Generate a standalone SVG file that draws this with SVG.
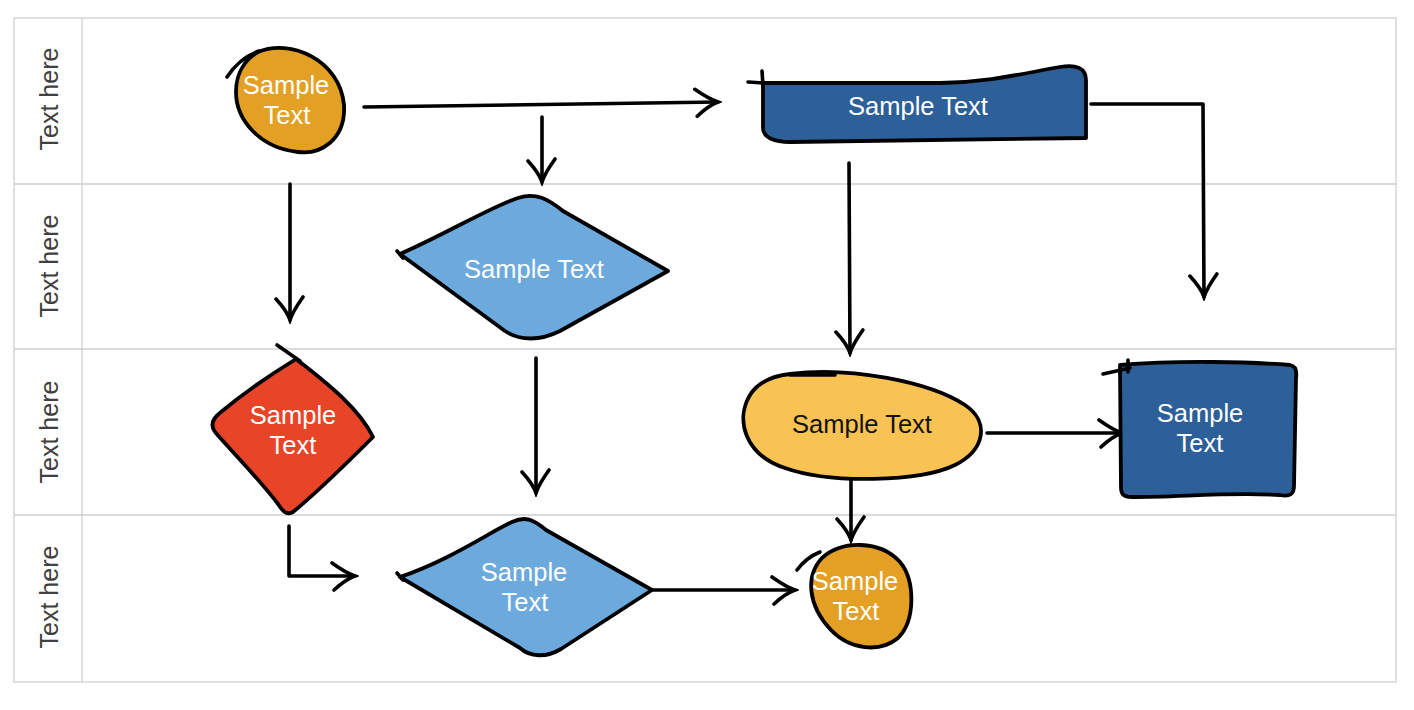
<svg xmlns="http://www.w3.org/2000/svg" width="1414" height="710" viewBox="0 0 1414 710">
<style>
.grid{fill:none;stroke:#cfcfcf;stroke-width:1.3}
.lbl{font-family:"Liberation Sans",Arial,sans-serif;font-size:25px;fill:#404040;text-anchor:middle}
.t{font-family:"Liberation Sans",Arial,sans-serif;font-size:25.5px;fill:#ffffff;text-anchor:middle}
.sh{stroke:#000;stroke-width:3.8;stroke-linejoin:round;stroke-linecap:round}
.ln{fill:none;stroke:#000;stroke-width:3.6;stroke-linecap:round;stroke-linejoin:round}
</style>
<defs>
<marker id="arr" viewBox="-28 -17 32 34" refX="0" refY="0" markerWidth="32" markerHeight="34" orient="auto" markerUnits="userSpaceOnUse">
<path d="M-23,-13 Q-9,-3 0,0 Q-9,3 -21,14" fill="none" stroke="#000" stroke-width="3.6" stroke-linecap="round"/>
</marker>
</defs>
<rect width="1414" height="710" fill="#fff"/>
<g id="table">
<rect class="grid" x="14" y="18" width="1382" height="664"/>
<line class="grid" x1="82" y1="18" x2="82" y2="682"/>
<line class="grid" x1="14" y1="184" x2="1396" y2="184"/>
<line class="grid" x1="14" y1="349" x2="1396" y2="349"/>
<line class="grid" x1="14" y1="515" x2="1396" y2="515"/>
<text class="lbl" transform="translate(58,99) rotate(-90)">Text here</text>
<text class="lbl" transform="translate(58,266) rotate(-90)">Text here</text>
<text class="lbl" transform="translate(58,432) rotate(-90)">Text here</text>
<text class="lbl" transform="translate(58,597) rotate(-90)">Text here</text>
</g>
<g id="connectors">
<path class="ln" d="M364,107 L718,102" marker-end="url(#arr)"/>
<path class="ln" d="M542,117 L542,182" marker-end="url(#arr)"/>
<path class="ln" d="M290,184 L290,320" marker-end="url(#arr)"/>
<path class="ln" d="M849,163 L850,353" marker-end="url(#arr)"/>
<path class="ln" d="M1091,104 L1203,104 L1204,297" marker-end="url(#arr)"/>
<path class="ln" d="M536,358 L536,493" marker-end="url(#arr)"/>
<path class="ln" d="M987,433 L1122,433" marker-end="url(#arr)"/>
<path class="ln" d="M851,479 L851,540" marker-end="url(#arr)"/>
<path class="ln" d="M289,526 L289,576 L355,576" marker-end="url(#arr)"/>
<path class="ln" d="M653,590 L795,590" marker-end="url(#arr)"/>
</g>
<g id="n1">
<path class="sh" fill="#E4A024" d="M258,52 C290,38 340,60 344,105 C346,140 320,155 298,152 C260,148 236,120 236,92 C236,72 246,59 258,52 Z"/>
<path class="ln" d="M227,77 C235,65 245,56 259,51"/>
<text class="t" x="286" y="94">Sample</text>
<text class="t" x="287" y="124">Text</text>
</g>
<g id="n2">
<path class="sh" fill="#2D5F98" d="M763,83 L940,83 C990,82 1020,74 1060,67 C1076,64 1086,68 1086,80 L1086,138 L790,142 C775,142 763,138 763,128 Z"/>
<path class="ln" d="M748,82 L764,83 M762,71 L763,86"/>
<text class="t" x="918" y="115">Sample Text</text>
</g>
<g id="n3">
<path class="sh" fill="#6CA9DC" d="M400,254 C450,232 490,207 518,198 C536,192 548,199 563,211 L668,271 L560,331 C540,341 520,341 505,331 Z"/>
<path class="ln" d="M397,251 L403,258"/>
<text class="t" x="534" y="278">Sample Text</text>
</g>
<g id="n4">
<path class="sh" fill="#E84428" d="M296,359 C330,385 360,410 373,437 C350,460 320,490 293,512 C286,516 282,510 278,504 C260,480 235,455 215,432 C210,425 213,418 221,412 C245,392 270,375 296,359 Z"/>
<path class="ln" d="M277,345 L300,361"/>
<text class="t" x="293" y="424">Sample</text>
<text class="t" x="293" y="454">Text</text>
</g>
<g id="n5">
<path class="sh" fill="#F9C353" d="M790,374 C850,366 930,382 965,405 C990,422 985,450 955,465 C920,482 830,484 785,468 C745,455 735,420 750,395 C758,382 772,376 790,374 Z"/>
<path class="ln" d="M790,375 L835,375"/>
<text class="t" x="862" y="433" style="fill:#111">Sample Text</text>
</g>
<g id="n6">
<path class="sh" fill="#2D5F98" d="M1120,365 C1180,360 1250,362 1290,365 C1296,366 1297,371 1296,378 L1294,486 C1294,494 1290,497 1280,495 C1230,492 1180,497 1132,497 C1123,497 1121,494 1121,487 Z"/>
<path class="ln" d="M1103,374 L1130,368 M1128,360 L1128,372"/>
<text class="t" x="1200" y="422">Sample</text>
<text class="t" x="1200" y="452">Text</text>
</g>
<g id="n7">
<path class="sh" fill="#6CA9DC" d="M400,577 C450,560 490,532 512,522 C525,516 533,519 546,530 L652,590 L561,649 C546,658 530,657 520,648 Z"/>
<path class="ln" d="M397,573 L403,580"/>
<text class="t" x="524" y="581">Sample</text>
<text class="t" x="525" y="611">Text</text>
</g>
<g id="n8">
<path class="sh" fill="#E4A024" d="M822,558 C842,540 880,540 900,562 C915,580 916,620 898,638 C880,653 850,650 831,630 C808,606 805,576 822,558 Z"/>
<path class="ln" d="M797,570 C803,562 810,556 820,552"/>
<text class="t" x="855" y="590">Sample</text>
<text class="t" x="856" y="620">Text</text>
</g>
</svg>
